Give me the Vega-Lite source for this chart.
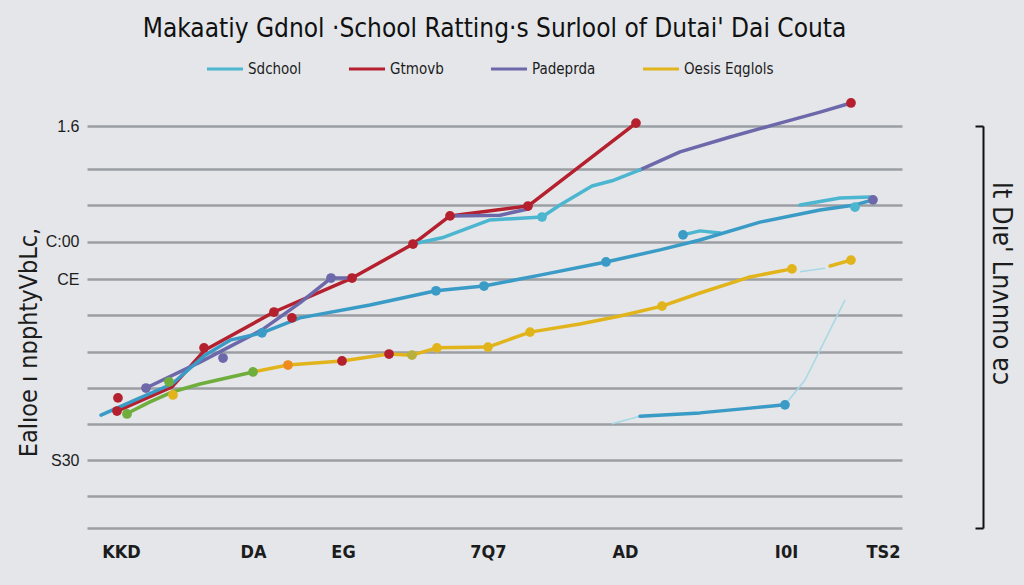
{
  "$schema": "https://vega.github.io/schema/vega-lite/v6.json",
  "width": 815,
  "height": 402,
  "autosize": {"type": "none"},
  "padding": {"left": 87, "top": 126, "right": 122, "bottom": 57},
  "background": "#e4e6e9",
  "title": {
    "text": "Makaatiy Gdnol  ·School Ratting·s Surlool  of Dutai' Dai Couta",
    "font": "Liberation Sans Narrow, DejaVu Sans Condensed, sans-serif",
    "fontSize": 26,
    "fontWeight": "normal",
    "color": "#111111",
    "anchor": "middle",
    "frame": "group",
    "offset": 7
  },
  "datasets": {
    "lines": [
      {"s": "Gtmovb", "g": "r1", "x": 3.68, "y": 3.20},
      {"s": "Gtmovb", "g": "r1", "x": 10.43, "y": 3.86},
      {"s": "Gtmovb", "g": "r1", "x": 14.48, "y": 4.87},
      {"s": "Gtmovb", "g": "r1", "x": 22.94, "y": 5.91},
      {"s": "Gtmovb", "g": "r1", "x": 32.52, "y": 6.84},
      {"s": "Gtmovb", "g": "r1", "x": 40.0, "y": 7.77},
      {"s": "Gtmovb", "g": "r1", "x": 44.54, "y": 8.54},
      {"s": "Gtmovb", "g": "r1", "x": 54.11, "y": 8.81},
      {"s": "Gtmovb", "g": "r1", "x": 67.36, "y": 11.08},
      {"s": "Padeprda", "g": "p1", "x": 7.24, "y": 3.83},
      {"s": "Padeprda", "g": "p1", "x": 13.87, "y": 4.54},
      {"s": "Padeprda", "g": "p1", "x": 21.47, "y": 5.42},
      {"s": "Padeprda", "g": "p1", "x": 26.13, "y": 6.16},
      {"s": "Padeprda", "g": "p1", "x": 29.94, "y": 6.84},
      {"s": "Padeprda", "g": "p1", "x": 32.52, "y": 6.84},
      {"s": "Padeprda", "g": "p2", "x": 44.54, "y": 8.54},
      {"s": "Padeprda", "g": "p2", "x": 50.67, "y": 8.56},
      {"s": "Padeprda", "g": "p2", "x": 54.11, "y": 8.73},
      {"s": "Padeprda", "g": "p3", "x": 67.85, "y": 9.80},
      {"s": "Padeprda", "g": "p3", "x": 72.76, "y": 10.29},
      {"s": "Padeprda", "g": "p3", "x": 78.90, "y": 10.70},
      {"s": "Padeprda", "g": "p3", "x": 85.03, "y": 11.08},
      {"s": "Padeprda", "g": "p3", "x": 89.94, "y": 11.38},
      {"s": "Padeprda", "g": "p3", "x": 93.74, "y": 11.63},
      {"s": "Sdchool", "g": "c1", "x": 40.0, "y": 7.77},
      {"s": "Sdchool", "g": "c1", "x": 43.56, "y": 7.94},
      {"s": "Sdchool", "g": "c1", "x": 49.45, "y": 8.43},
      {"s": "Sdchool", "g": "c1", "x": 55.83, "y": 8.51},
      {"s": "Sdchool", "g": "c1", "x": 58.04, "y": 8.84},
      {"s": "Sdchool", "g": "c1", "x": 61.96, "y": 9.36},
      {"s": "Sdchool", "g": "c1", "x": 64.42, "y": 9.50},
      {"s": "Sdchool", "g": "c1", "x": 67.85, "y": 9.80},
      {"s": "Sdchool", "g": "c2", "x": 73.13, "y": 8.02},
      {"s": "Sdchool", "g": "c2", "x": 75.21, "y": 8.13},
      {"s": "Sdchool", "g": "c2", "x": 77.67, "y": 8.07},
      {"s": "Sdchool", "g": "c3", "x": 87.48, "y": 8.84},
      {"s": "Sdchool", "g": "c3", "x": 92.39, "y": 9.03},
      {"s": "Sdchool", "g": "c3", "x": 96.07, "y": 9.06},
      {"s": "Blue", "g": "b1", "x": 1.72, "y": 3.09},
      {"s": "Blue", "g": "b1", "x": 6.50, "y": 3.56},
      {"s": "Blue", "g": "b1", "x": 10.43, "y": 3.94},
      {"s": "Blue", "g": "b1", "x": 14.48, "y": 4.73},
      {"s": "Blue", "g": "b1", "x": 17.55, "y": 5.14},
      {"s": "Blue", "g": "b1", "x": 21.47, "y": 5.34},
      {"s": "Blue", "g": "b1", "x": 26.13, "y": 5.75},
      {"s": "Blue", "g": "b1", "x": 34.72, "y": 6.10},
      {"s": "Blue", "g": "b1", "x": 42.82, "y": 6.49},
      {"s": "Blue", "g": "b1", "x": 48.71, "y": 6.62},
      {"s": "Blue", "g": "b1", "x": 55.58, "y": 6.92},
      {"s": "Blue", "g": "b1", "x": 63.68, "y": 7.28},
      {"s": "Blue", "g": "b1", "x": 70.31, "y": 7.61},
      {"s": "Blue", "g": "b1", "x": 75.21, "y": 7.88},
      {"s": "Blue", "g": "b1", "x": 82.58, "y": 8.37},
      {"s": "Blue", "g": "b1", "x": 89.94, "y": 8.70},
      {"s": "Blue", "g": "b1", "x": 94.23, "y": 8.84},
      {"s": "Blue", "g": "b1", "x": 96.44, "y": 8.98},
      {"s": "Blue", "g": "b2", "x": 67.85, "y": 3.06},
      {"s": "Blue", "g": "b2", "x": 75.21, "y": 3.15},
      {"s": "Blue", "g": "b2", "x": 81.35, "y": 3.28},
      {"s": "Blue", "g": "b2", "x": 85.64, "y": 3.37},
      {"s": "Oesis Eqglols", "g": "y1", "x": 20.37, "y": 4.27},
      {"s": "Oesis Eqglols", "g": "y1", "x": 24.66, "y": 4.46},
      {"s": "Oesis Eqglols", "g": "y1", "x": 31.29, "y": 4.57},
      {"s": "Oesis Eqglols", "g": "y1", "x": 37.06, "y": 4.76},
      {"s": "Oesis Eqglols", "g": "y1", "x": 39.88, "y": 4.73},
      {"s": "Oesis Eqglols", "g": "y1", "x": 42.94, "y": 4.93},
      {"s": "Oesis Eqglols", "g": "y1", "x": 49.20, "y": 4.95},
      {"s": "Oesis Eqglols", "g": "y1", "x": 54.36, "y": 5.36},
      {"s": "Oesis Eqglols", "g": "y1", "x": 60.49, "y": 5.58},
      {"s": "Oesis Eqglols", "g": "y1", "x": 65.40, "y": 5.80},
      {"s": "Oesis Eqglols", "g": "y1", "x": 70.55, "y": 6.07},
      {"s": "Oesis Eqglols", "g": "y1", "x": 75.21, "y": 6.43},
      {"s": "Oesis Eqglols", "g": "y1", "x": 81.35, "y": 6.87},
      {"s": "Oesis Eqglols", "g": "y1", "x": 86.50, "y": 7.09},
      {"s": "Oesis Eqglols", "g": "y2", "x": 91.17, "y": 7.17},
      {"s": "Oesis Eqglols", "g": "y2", "x": 93.74, "y": 7.33},
      {"s": "Green", "g": "g1", "x": 4.79, "y": 3.12},
      {"s": "Green", "g": "g1", "x": 7.73, "y": 3.45},
      {"s": "Green", "g": "g1", "x": 10.43, "y": 3.72},
      {"s": "Green", "g": "g1", "x": 13.87, "y": 3.94},
      {"s": "Green", "g": "g1", "x": 20.37, "y": 4.27},
      {"s": "Faint", "g": "f1", "x": 64.42, "y": 2.85},
      {"s": "Faint", "g": "f1", "x": 67.85, "y": 3.06},
      {"s": "Faint", "g": "f2", "x": 85.64, "y": 3.37},
      {"s": "Faint", "g": "f2", "x": 88.10, "y": 4.05},
      {"s": "Faint", "g": "f2", "x": 90.55, "y": 5.14},
      {"s": "Faint", "g": "f2", "x": 93.01, "y": 6.24},
      {"s": "Faint", "g": "f3", "x": 87.48, "y": 7.01},
      {"s": "Faint", "g": "f3", "x": 90.55, "y": 7.11}
    ],
    "dots": [
      {"s": "Gtmovb", "x": 3.80, "y": 3.56},
      {"s": "Gtmovb", "x": 3.68, "y": 3.20},
      {"s": "Gtmovb", "x": 14.36, "y": 4.93},
      {"s": "Gtmovb", "x": 22.94, "y": 5.91},
      {"s": "Gtmovb", "x": 25.15, "y": 5.75},
      {"s": "Gtmovb", "x": 32.52, "y": 6.84},
      {"s": "Gtmovb", "x": 40.0, "y": 7.77},
      {"s": "Gtmovb", "x": 44.54, "y": 8.54},
      {"s": "Gtmovb", "x": 54.11, "y": 8.81},
      {"s": "Gtmovb", "x": 67.36, "y": 11.08},
      {"s": "Gtmovb", "x": 93.74, "y": 11.63},
      {"s": "Gtmovb", "x": 31.29, "y": 4.57},
      {"s": "Gtmovb", "x": 37.06, "y": 4.76},
      {"s": "Padeprda", "x": 7.24, "y": 3.83},
      {"s": "Padeprda", "x": 16.69, "y": 4.65},
      {"s": "Padeprda", "x": 29.94, "y": 6.84},
      {"s": "Padeprda", "x": 96.44, "y": 8.98},
      {"s": "Sdchool", "x": 55.83, "y": 8.51},
      {"s": "Sdchool", "x": 94.23, "y": 8.78},
      {"s": "Blue", "x": 21.47, "y": 5.34},
      {"s": "Blue", "x": 42.82, "y": 6.49},
      {"s": "Blue", "x": 48.71, "y": 6.62},
      {"s": "Blue", "x": 63.68, "y": 7.28},
      {"s": "Blue", "x": 73.13, "y": 8.02},
      {"s": "Blue", "x": 85.64, "y": 3.37},
      {"s": "Oesis Eqglols", "x": 42.94, "y": 4.93},
      {"s": "Oesis Eqglols", "x": 49.20, "y": 4.95},
      {"s": "Oesis Eqglols", "x": 54.36, "y": 5.36},
      {"s": "Oesis Eqglols", "x": 70.55, "y": 6.07},
      {"s": "Oesis Eqglols", "x": 86.50, "y": 7.09},
      {"s": "Oesis Eqglols", "x": 93.74, "y": 7.33},
      {"s": "Oesis Eqglols", "x": 10.55, "y": 3.64},
      {"s": "Green", "x": 4.91, "y": 3.12},
      {"s": "Green", "x": 10.06, "y": 4.00},
      {"s": "Green", "x": 20.37, "y": 4.27},
      {"s": "Orange", "x": 24.66, "y": 4.46},
      {"s": "Olive", "x": 39.88, "y": 4.73}
    ]
  },
  "config": {
    "view": {"stroke": null},
    "font": "Liberation Sans Narrow, DejaVu Sans Condensed, sans-serif",
    "axis": {"domain": false, "ticks": false, "labelColor": "#1c1c1c", "titleColor": "#1c1c1c"}
  },
  "resolve": {"axis": {"y": "independent"}},
  "layer": [
    {
      "data": {"name": "lines"},
      "transform": [{"filter": "datum.s === 'Faint'"}],
      "mark": {"type": "line", "strokeWidth": 1.5},
      "encoding": {
        "x": {"field": "x", "type": "quantitative", "scale": {"domain": [0, 100], "nice": false, "zero": false},
          "axis": {"values": [4.17, 20.37, 31.41, 49.2, 66.0, 85.77, 97.67],
            "labelExpr": "datum.value == 4.17 ? 'KKD' : datum.value == 20.37 ? 'DA' : datum.value == 31.41 ? 'EG' : datum.value == 49.2 ? '7Q7' : datum.value == 66 ? 'AD' : datum.value == 85.77 ? 'I0I' : 'TS2'",
            "title": null, "grid": false, "labelFontSize": 18, "labelFontWeight": "bold", "labelPadding": 15, "labelFlush": false}},
        "y": {"field": "y", "type": "quantitative", "scale": {"domain": [0, 11], "nice": false, "zero": false},
          "axis": {"values": [0, 0.88, 1.86, 2.85, 3.83, 4.82, 5.83, 6.81, 7.83, 8.84, 9.82, 11],
            "labelExpr": "datum.value == 11 ? '1.6' : datum.value == 7.83 ? 'C:00' : datum.value == 6.81 ? 'CE' : datum.value == 1.86 ? 'S30' : ''",
            "grid": true, "gridColor": "#9b9fa4", "gridWidth": 2.5, "gridOpacity": 1,
            "labelFont": "Liberation Sans, sans-serif", "labelFontSize": 16, "labelPadding": 8, "labelFlush": false,
            "title": "Ealıoe ı nɒphtyVbLc,", "titleFontSize": 25, "titleFontWeight": "normal",
            "titleX": -59, "titleY": 216, "titleAngle": -90, "titleAlign": "center", "titleBaseline": "middle"}},
        "color": {"field": "s", "type": "nominal"},
        "detail": {"field": "g"}
      }
    },
    {
      "data": {"name": "lines"},
      "transform": [{"filter": "datum.s !== 'Faint'"}],
      "mark": {"type": "line", "strokeWidth": 3.5, "strokeCap": "round", "strokeJoin": "round"},
      "encoding": {
        "x": {"field": "x", "type": "quantitative"},
        "y": {"field": "y", "type": "quantitative", "axis": null},
        "color": {"field": "s", "type": "nominal",
          "scale": {"domain": ["Sdchool", "Gtmovb", "Padeprda", "Oesis Eqglols", "Blue", "Green", "Orange", "Olive", "Faint"],
            "range": ["#4cb6d0", "#b5202e", "#6c68aa", "#e2b41c", "#3a9bc6", "#6fae3d", "#ef8b1c", "#b8b03a", "#a6d9e5"]},
          "legend": {"values": ["Sdchool", "Gtmovb", "Padeprda", "Oesis Eqglols"], "title": null,
            "orient": "none", "legendX": 118, "legendY": -77, "direction": "horizontal",
            "symbolType": "stroke", "symbolSize": 1300, "symbolStrokeWidth": 3,
            "labelFontSize": 15, "labelColor": "#1c1c1c", "labelOffset": 3, "columnPadding": 40}},
        "detail": {"field": "g"}
      }
    },
    {
      "data": {"name": "dots"},
      "mark": {"type": "circle", "size": 95, "opacity": 1},
      "encoding": {
        "x": {"field": "x", "type": "quantitative"},
        "y": {"field": "y", "type": "quantitative",
          "axis": {"orient": "right", "offset": 81, "values": [0, 11], "labels": false, "grid": false,
            "domain": true, "domainColor": "#111111", "domainWidth": 2,
            "ticks": true, "tickSize": -8, "tickColor": "#111111", "tickWidth": 2,
            "title": "lt Dıɐ' Lnʌnno ɐɔ", "titleFontSize": 27, "titleFontWeight": "normal",
            "titleAngle": 90, "titleX": 17, "titleY": 157, "titleAlign": "center", "titleBaseline": "middle"}},
        "color": {"field": "s", "type": "nominal"}
      }
    }
  ]
}
